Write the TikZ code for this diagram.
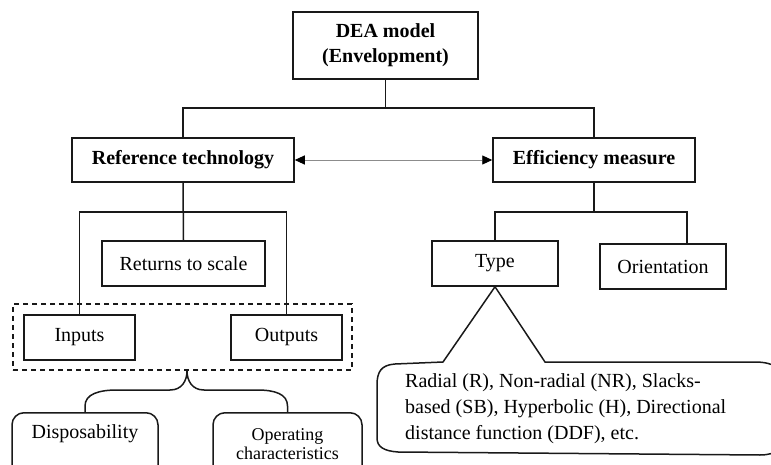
\documentclass[tikz,border=0pt]{standalone}
\usepackage{fontspec}
\setmainfont{Liberation Serif}
\usetikzlibrary{arrows.meta}
\tikzset{
  box/.style={draw=black!90, line width=1.5pt, fill=white, inner sep=0pt,
    font=\fontsize{20}{26}\selectfont},
  boldbox/.style={box, font=\fontsize{20}{25}\selectfont\bfseries},
  softbox/.style={draw=black!90, line width=1.5pt, rounded corners=12pt, fill=white, inner sep=0pt},
  link/.style={draw=black!90, line width=1.5pt},
  txt/.style={inner sep=0pt, font=\fontsize{20}{26}\selectfont},
  twoway/.style={{Triangle[length=10pt,width=9pt,color=black]}-{Triangle[length=10pt,width=9pt,color=black]},
    draw=black!45, line width=0.9pt},
}
\begin{document}
\begin{tikzpicture}[x=1pt,y=-1pt]
\useasboundingbox (0,0) rectangle (771,465);

% top of the hierarchy
\node[boldbox, minimum width=185, minimum height=67, align=center] (dea) at (385.5,45.5) {DEA model\\(Envelopment)};
\node[boldbox, minimum width=222, minimum height=44] (ref) at (183,160) {Reference technology};
\node[boldbox, minimum width=202, minimum height=44] (eff) at (594,160) {Efficiency measure};

% reference technology branch
\node[box, minimum width=163, minimum height=45] (ret) at (183.5,263.5) {Returns to scale};
\node[draw=black!90, line width=1.3pt, dash pattern=on 5pt off 4pt, minimum width=339, minimum height=66, inner sep=0pt] (grp) at (182.5,337) {};
\node[box, minimum width=111, minimum height=45] (inp) at (79.5,337.5) {Inputs};
\node[box, minimum width=111, minimum height=45] (out) at (286.5,337.5) {Outputs};

% efficiency measure branch
\node[box, minimum width=126, minimum height=45] (typ) at (495,263.5) {Type};
\node[box, minimum width=126, minimum height=45] (ori) at (663,266.5) {Orientation};

% junctions of the tree
\coordinate (j1) at (385.5,108);
\coordinate (j2) at (183,212);
\coordinate (j3) at (594,212);

\draw[link] (dea.south) -- (j1);
\draw[link] (ref.north) |- (j1) -| (eff.north);
\draw[link] (ref.south) -- (ret.north);
\draw[link] (inp.north) |- (j2) -| (out.north);
\draw[link] (eff.south) -- (j3);
\draw[link] (typ.north) |- (j3) -| ([xshift=24pt]ori.north);

\draw[twoway] (ref.east) -- (eff.west);

% properties of inputs and outputs
\node[softbox, anchor=north, minimum width=146, minimum height=90] (disp) at (85,412) {};
\node[txt] (dispt) at (85,434) {Disposability};
\node[softbox, anchor=north, minimum width=149, minimum height=90] (oper) at (287.5,412) {};
\node[txt, align=center, font=\fontsize{18}{19.5}\selectfont] (opert) at (287.5,444) {Operating\\characteristics};

\coordinate (tip) at ([xshift=4.5pt]grp.south);
\draw[link] (disp.north) -- ++(0,-6) .. controls +(0,-12) and +(-18,0) .. (117,390)
  -- (170,390) .. controls +(12,0) and +(0,10) .. (tip);
\draw[link] (oper.north) -- ++(0,-6) .. controls +(0,-12) and +(18,0) .. (257,390)
  -- (204,390) .. controls +(-12,0) and +(0,10) .. (tip);

% callout listing the measure types
\draw[link, fill=white] (typ.south) -- (443,362) -- (395,364)
  .. controls (381,365) and (377,372) .. (377,385) -- (377,438)
  .. controls (377,447) and (384,451) .. (398,452) -- (760,455)
  .. controls (776,455) and (785,448) .. (785,435) -- (785,385)
  .. controls (785,370) and (775,362) .. (755,362) -- (545,362) -- cycle;
\node[txt, anchor=north west, align=left] (kinds) at (405,373)
  {Radial (R), Non-radial (NR), Slacks-\\based (SB), Hyperbolic (H), Directional\\distance function (DDF), etc.};
\end{tikzpicture}
\end{document}
